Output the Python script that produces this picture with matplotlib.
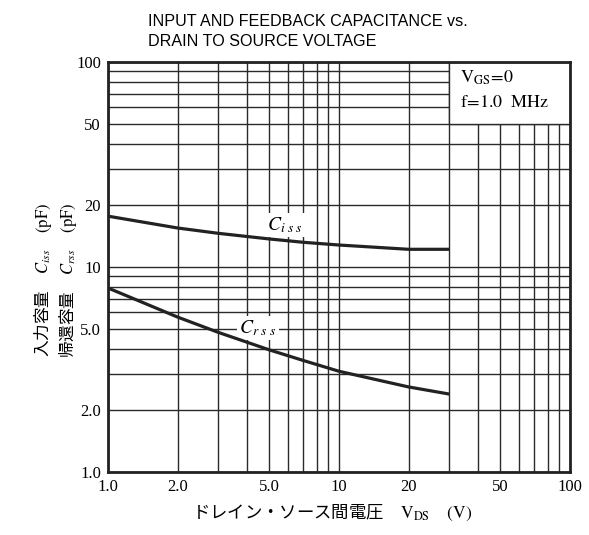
import matplotlib
matplotlib.use("Agg")
import matplotlib.pyplot as plt
from matplotlib.patches import Rectangle

# values
vds = [1, 2, 3, 5, 7, 10, 20, 30]
ciss = [17.7, 15.5, 14.6, 13.7, 13.2, 12.8, 12.2, 12.2]
crss = [7.9, 5.7, 4.8, 3.94, 3.5, 3.1, 2.6, 2.4]

x_ticks = [1, 2, 5, 10, 20, 50, 100]
x_ticklabels = ["1.0", "2.0", "5.0", "10", "20", "50", "100"]
y_ticks = [1, 2, 5, 10, 20, 50, 100]
y_ticklabels = ["1.0", "2.0", "5.0", "10", "20", "50", "100"]

grid_x = [1, 2, 3, 4, 5, 6, 7, 8, 9, 10, 20, 30, 40, 50, 60, 70, 80, 90, 100]
grid_y = [1, 2, 3, 4, 5, 6, 7, 8, 9, 10, 20, 30, 40, 50, 60, 70, 80, 90, 100]

plt.rcParams["mathtext.fontset"] = "stix"
serif = "Liberation Serif"
jp = ["Noto Sans CJK JP", "DejaVu Sans"]

W, H = 589, 535
fig = plt.figure(figsize=(W / 100, H / 100), dpi=100)
ax = fig.add_axes([108 / W, 1 - 472 / H, (570 - 108) / W, (472 - 62) / H])
ax.set_xscale("log")
ax.set_yscale("log")
ax.set_xlim(1, 100)
ax.set_ylim(1, 100)

gc = "#2a2a2a"
for gx in grid_x:
    ax.axvline(gx, color=gc, lw=1.0, zorder=1)
for gy in grid_y:
    ax.axhline(gy, color=gc, lw=1.0, zorder=1)

# condition box in the top right corner (covers the grid there)
ax.add_patch(Rectangle((30, 50), 70, 50, facecolor="white", edgecolor=gc,
                       lw=1.0, zorder=2))
ax.text(33.4, 83.5, r"$\mathrm{V_{GS}\!=\!0}$", fontsize=13, va="center", zorder=3)
ax.text(33.4, 63.8, r"$\mathrm{f\!=\!1.0\ \ MHz}$", fontsize=13, va="center", zorder=3)

ax.plot(vds, ciss, color="#222222", lw=2.3, zorder=4, solid_capstyle="butt")
ax.plot(vds, crss, color="#222222", lw=2.3, zorder=4, solid_capstyle="butt")

bb = dict(facecolor="white", edgecolor="none", pad=1.5)
ax.text(5.84, 16.0, r"$C_{i\ s\ s}$", fontsize=14, ha="center", va="center",
        bbox=bb, zorder=3)
ax.text(4.46, 5.04, r"$C_{r\ s\ s}$", fontsize=14, ha="center", va="center",
        bbox=bb, zorder=3)

ax.set_xticks(x_ticks)
ax.set_xticklabels(x_ticklabels, fontfamily=serif, fontsize=12)
ax.set_yticks(y_ticks)
ax.set_yticklabels(y_ticklabels, fontfamily=serif, fontsize=12)
ax.minorticks_off()
ax.tick_params(length=0, pad=5)
for s in ax.spines.values():
    s.set_linewidth(2.0)
    s.set_color("#222222")
    s.set_zorder(5)

fig.text(148 / W, 1 - 22 / H, "INPUT AND FEEDBACK CAPACITANCE vs.",
         fontfamily="Liberation Sans", fontsize=11.6, va="center", ha="left")
fig.text(148 / W, 1 - 42 / H, "DRAIN TO SOURCE VOLTAGE",
         fontfamily="Liberation Sans", fontsize=11.6, va="center", ha="left")

fig.text(43 / W, 1 - 280 / H, r"入力容量　$C_{iss}$　$\mathrm{(pF)}$",
         fontfamily=jp, fontsize=12, rotation=90, ha="center", va="center")
fig.text(68 / W, 1 - 280 / H, r"帰還容量　$C_{rss}$　$\mathrm{(pF)}$",
         fontfamily=jp, fontsize=12, rotation=90, ha="center", va="center")
fig.text(332 / W, 1 - 513 / H, r"ドレイン・ソース間電圧　$\mathrm{V_{DS}}$　$\mathrm{(V)}$",
         fontfamily=jp, fontsize=12.5, ha="center", va="center")

fig.savefig("out.png", dpi=100)
